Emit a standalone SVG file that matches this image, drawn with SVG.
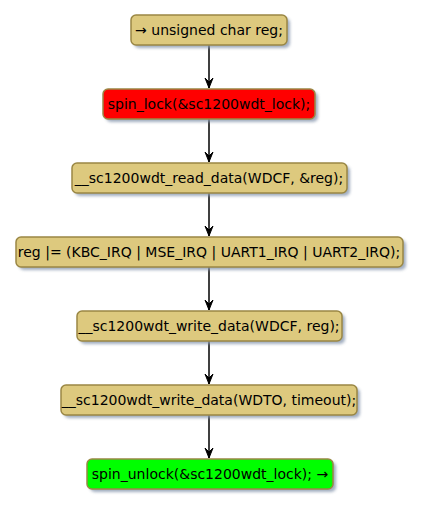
<svg xmlns="http://www.w3.org/2000/svg" width="421" height="507" viewBox="0 0 421 507">
<defs>
<filter id="sh" x="-10%" y="-30%" width="130%" height="180%">
<feGaussianBlur stdDeviation="1.5"/>
</filter>
<marker id="ah" markerWidth="12" markerHeight="10" refX="11" refY="5" orient="auto" markerUnits="userSpaceOnUse" viewBox="0 0 12 10">
<polygon points="1,1 11,5 1,9 5,5" fill="#000" stroke="#000" stroke-width="1"/>
</marker>
</defs>
<style>
.box{stroke:#9A8744;stroke-width:1.5}
.sh{fill:#8A9AB0;opacity:0.8;filter:url(#sh)}
.t{font-family:"DejaVu Sans",sans-serif;font-size:14px;fill:#000;text-anchor:middle}
.c{stroke:#000;stroke-width:1.5;fill:none;marker-end:url(#ah)}
</style>
<rect width="421" height="507" fill="#fff"/>
<g id="connectors">
<line class="c" x1="209" y1="45" x2="209" y2="88"/>
<line class="c" x1="209" y1="119" x2="209" y2="162"/>
<line class="c" x1="209" y1="193" x2="209" y2="236"/>
<line class="c" x1="209" y1="267" x2="209" y2="310"/>
<line class="c" x1="209" y1="341" x2="209" y2="384"/>
<line class="c" x1="209" y1="415" x2="209" y2="458"/>
</g>
<g id="n1">
<rect class="sh" x="134" y="18" width="156" height="30" rx="5"/>
<rect class="box" x="131" y="15" width="156" height="30" rx="5" fill="#DDC97E"/>
<text class="t" x="209" y="35">→ unsigned char reg;</text>
</g>
<g id="n2">
<rect class="sh" x="106" y="92" width="212" height="30" rx="5"/>
<rect class="box" x="103" y="89" width="212" height="30" rx="5" fill="#FF0000"/>
<text class="t" x="209" y="109">spin_lock(&amp;sc1200wdt_lock);</text>
</g>
<g id="n3">
<rect class="sh" x="75" y="166" width="275" height="30" rx="5"/>
<rect class="box" x="72" y="163" width="275" height="30" rx="5" fill="#DDC97E"/>
<text class="t" x="209" y="183">__sc1200wdt_read_data(WDCF, &amp;reg);</text>
</g>
<g id="n4">
<rect class="sh" x="19" y="240" width="387" height="30" rx="5"/>
<rect class="box" x="16" y="237" width="387" height="30" rx="5" fill="#DDC97E"/>
<text class="t" x="209" y="257">reg |= (KBC_IRQ | MSE_IRQ | UART1_IRQ | UART2_IRQ);</text>
</g>
<g id="n5">
<rect class="sh" x="80" y="314" width="265" height="30" rx="5"/>
<rect class="box" x="77" y="311" width="265" height="30" rx="5" fill="#DDC97E"/>
<text class="t" x="209" y="331">__sc1200wdt_write_data(WDCF, reg);</text>
</g>
<g id="n6">
<rect class="sh" x="64" y="388" width="296" height="30" rx="5"/>
<rect class="box" x="61" y="385" width="296" height="30" rx="5" fill="#DDC97E"/>
<text class="t" x="209" y="405">__sc1200wdt_write_data(WDTO, timeout);</text>
</g>
<g id="n7">
<rect class="sh" x="90" y="462" width="246" height="30" rx="5"/>
<rect class="box" x="87" y="459" width="246" height="30" rx="5" fill="#00FF00"/>
<text class="t" x="210" y="479">spin_unlock(&amp;sc1200wdt_lock); →</text>
</g>
</svg>
